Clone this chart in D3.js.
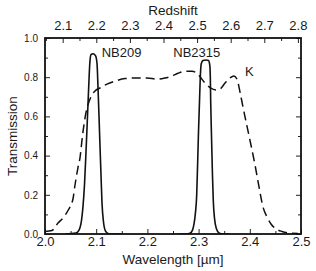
<!DOCTYPE html>
<html>
<head>
<meta charset="utf-8">
<script src="https://d3js.org/d3.v7.min.js"></script>
<style>
  body { margin: 0; background: #fff; }
  text { font-family: "Liberation Sans", Arial, Helvetica, sans-serif; fill: #1a1a1a; }
</style>
</head>
<body>
<svg id="chart"></svg>
<script>
// filter curves: [wavelength (um), transmission]
const nb209 = [
  [2.040, 0], [2.0605, 0.005], [2.0664, 0.02], [2.0713, 0.07], [2.0742, 0.14],
  [2.0771, 0.25], [2.0801, 0.42], [2.0830, 0.60], [2.0855, 0.76], [2.0875, 0.87],
  [2.0898, 0.915], [2.0938, 0.92], [2.0986, 0.91], [2.1016, 0.87], [2.1035, 0.75],
  [2.1055, 0.60], [2.1074, 0.45], [2.1094, 0.30], [2.1113, 0.16], [2.1143, 0.06],
  [2.1182, 0.015], [2.1230, 0.003], [2.1309, 0], [2.150, 0]
];
const nb2315 = [
  [2.260, 0], [2.2754, 0], [2.2832, 0.004], [2.2881, 0.02], [2.2910, 0.05],
  [2.2939, 0.11], [2.2963, 0.20], [2.2980, 0.35], [2.2998, 0.52], [2.3018, 0.68],
  [2.3033, 0.80], [2.3053, 0.87], [2.3086, 0.885], [2.3145, 0.888], [2.3193, 0.885],
  [2.3219, 0.86], [2.3229, 0.80], [2.3236, 0.68], [2.3252, 0.50], [2.3271, 0.30],
  [2.3287, 0.17], [2.3311, 0.08], [2.3350, 0.025], [2.3398, 0.005], [2.3477, 0], [2.360, 0]
];
const kband = [
  [2.000, 0.013], [2.0137, 0.018], [2.0254, 0.056], [2.0352, 0.082], [2.0449, 0.12],
  [2.0547, 0.18], [2.0586, 0.25], [2.0645, 0.34], [2.0684, 0.39], [2.0723, 0.48],
  [2.0762, 0.56], [2.0801, 0.62], [2.0840, 0.66], [2.0898, 0.70], [2.0977, 0.73],
  [2.1074, 0.745], [2.1211, 0.765], [2.1367, 0.78], [2.1563, 0.793], [2.1758, 0.796],
  [2.1992, 0.796], [2.2188, 0.79], [2.2344, 0.796], [2.2480, 0.806], [2.2598, 0.82],
  [2.2734, 0.83], [2.2871, 0.83], [2.2969, 0.82], [2.3047, 0.796], [2.3125, 0.77],
  [2.3223, 0.747], [2.3340, 0.735], [2.3418, 0.74], [2.3516, 0.77], [2.3613, 0.796],
  [2.3691, 0.806], [2.3750, 0.79], [2.3809, 0.724], [2.3867, 0.648], [2.3945, 0.55],
  [2.4023, 0.454], [2.4102, 0.352], [2.4180, 0.24], [2.4258, 0.138], [2.4336, 0.087],
  [2.4414, 0.051], [2.4512, 0.026], [2.4629, 0.013], [2.4785, 0.005], [2.4941, 0.003]
];

const xTicks = [2.0, 2.1, 2.2, 2.3, 2.4, 2.5];
const xMinor = [2.05, 2.15, 2.25, 2.35, 2.45];
const yTicks = [0.0, 0.2, 0.4, 0.6, 0.8, 1.0];
const yMinor = [0.1, 0.3, 0.5, 0.7, 0.9];
const zTicks = [2.1, 2.2, 2.3, 2.4, 2.5, 2.6, 2.7, 2.8];
const zMinor = [2.05, 2.15, 2.25, 2.35, 2.45, 2.55, 2.65, 2.75];
const haWave = 0.6563; // H-alpha rest wavelength, um

const labels = [
  {text: "NB209", x: 2.1107, y: 0.903},
  {text: "NB2315", x: 2.2506, y: 0.903},
  {text: "K", x: 2.3906, y: 0.806}
];

const width = 316, height = 271;
const m = {left: 45, right: 15, top: 38, bottom: 37};

const svg = d3.select("#chart").attr("width", width).attr("height", height);

const x = d3.scaleLinear().domain([2.0, 2.5]).range([m.left, width - m.right]);
const y = d3.scaleLinear().domain([0, 1]).range([height - m.bottom, m.top]);
// top axis scale in redshift
const zScale = d3.scaleLinear()
  .domain([2.0 / haWave - 1, 2.5 / haWave - 1])
  .range([m.left, width - m.right]);

svg.append("clipPath").attr("id", "clip")
  .append("rect")
  .attr("x", m.left).attr("y", m.top - 2)
  .attr("width", width - m.left - m.right).attr("height", height - m.top - m.bottom + 2);

const line = d3.line().x(d => x(d[0])).y(d => y(d[1])).curve(d3.curveMonotoneX);

const g = svg.append("g").attr("clip-path", "url(#clip)");
g.append("path").datum(kband).attr("d", line)
  .attr("fill", "none").attr("stroke", "#111").attr("stroke-width", 1.5)
  .attr("stroke-dasharray", "9,5");
[nb209, nb2315].forEach(s => {
  g.append("path").datum(s).attr("d", line)
    .attr("fill", "none").attr("stroke", "#111").attr("stroke-width", 1.6);
});

// axes, ticks pointing inward
function styleAxis(sel, fs) {
  sel.select(".domain").remove();
  sel.selectAll(".tick line").attr("stroke", "#222").attr("stroke-width", 1);
  sel.selectAll("text").style("font-size", fs + "px");
}

const bottomAx = svg.append("g").attr("transform", `translate(0,${y(0)})`)
  .call(d3.axisBottom(x).tickValues(xTicks).tickFormat(d3.format(".1f")).tickSize(-5).tickPadding(3));
styleAxis(bottomAx, 13);
svg.append("g").attr("transform", `translate(0,${y(0)})`)
  .call(d3.axisBottom(x).tickValues(xMinor).tickFormat("").tickSize(-3))
  .call(s => styleAxis(s, 12));

const leftAx = svg.append("g").attr("transform", `translate(${x(2.0)},0)`)
  .call(d3.axisLeft(y).tickValues(yTicks).tickFormat(d3.format(".1f")).tickSize(-5).tickPadding(7));
styleAxis(leftAx, 10);
svg.append("g").attr("transform", `translate(${x(2.0)},0)`)
  .call(d3.axisLeft(y).tickValues(yMinor).tickFormat("").tickSize(-3))
  .call(s => styleAxis(s, 10));

svg.append("g").attr("transform", `translate(${x(2.5)},0)`)
  .call(d3.axisRight(y).tickValues(yTicks).tickFormat("").tickSize(-5))
  .call(s => styleAxis(s, 10));
svg.append("g").attr("transform", `translate(${x(2.5)},0)`)
  .call(d3.axisRight(y).tickValues(yMinor).tickFormat("").tickSize(-3))
  .call(s => styleAxis(s, 10));

const topAx = svg.append("g").attr("transform", `translate(0,${y(1)})`)
  .call(d3.axisTop(zScale).tickValues(zTicks).tickFormat(d3.format(".1f")).tickSize(-5).tickPadding(8.5));
styleAxis(topAx, 13);
svg.append("g").attr("transform", `translate(0,${y(1)})`)
  .call(d3.axisTop(zScale).tickValues(zMinor).tickFormat("").tickSize(-3))
  .call(s => styleAxis(s, 12));

// frame
svg.append("rect")
  .attr("x", x(2.0)).attr("y", y(1))
  .attr("width", x(2.5) - x(2.0)).attr("height", y(0) - y(1))
  .attr("fill", "none").attr("stroke", "#111").attr("stroke-width", 1.8);

// titles
svg.append("text").attr("x", (x(2.0) + x(2.5)) / 2).attr("y", 264)
  .attr("text-anchor", "middle").style("font-size", "13.5px").text("Wavelength [µm]");
svg.append("text").attr("x", (x(2.0) + x(2.5)) / 2).attr("y", 15)
  .attr("text-anchor", "middle").style("font-size", "13.5px").text("Redshift");
svg.append("text")
  .attr("transform", `translate(17,${(y(0) + y(1)) / 2}) rotate(-90)`)
  .attr("text-anchor", "middle").style("font-size", "13.5px").text("Transmission");

svg.selectAll("text.lbl").data(labels).join("text").attr("class", "lbl")
  .attr("x", d => x(d.x)).attr("y", d => y(d.y))
  .style("font-size", "13px").text(d => d.text);
</script>
</body>
</html>
